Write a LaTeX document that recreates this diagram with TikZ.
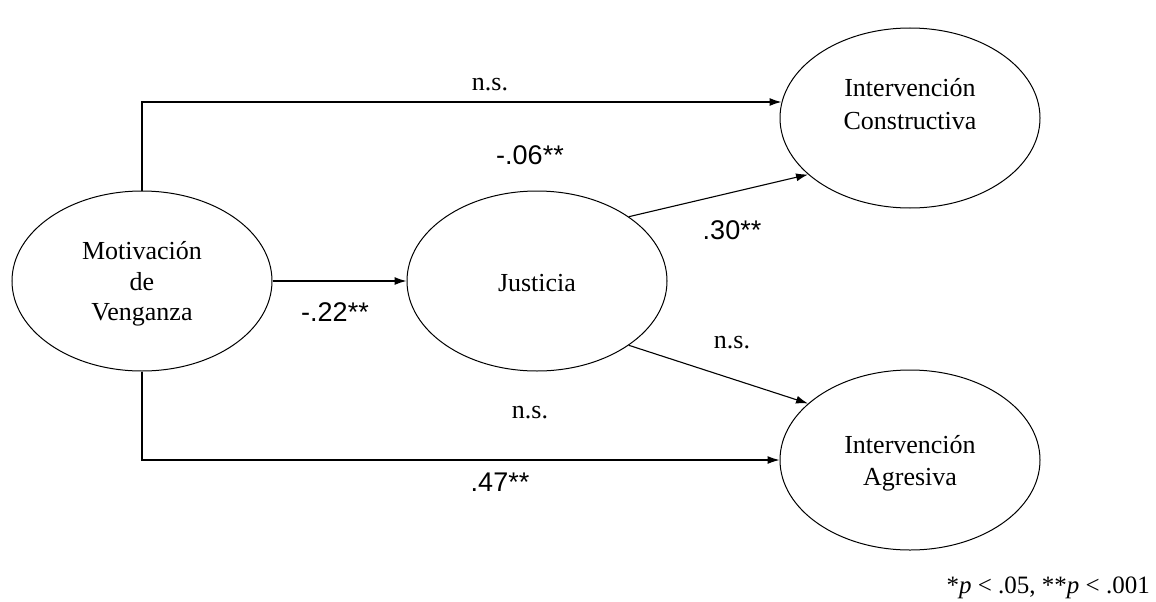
\documentclass[tikz,border=0pt]{standalone}
\usepackage{fontspec}
\setmainfont{Liberation Serif}
\newfontfamily\numfont{Liberation Sans}
\usetikzlibrary{arrows.meta,calc,shapes.geometric}
\tikzset{
  var/.style={draw, line width=1pt, ellipse, minimum width=260pt, minimum height=180pt, inner sep=0pt},
  txt/.style={align=center, font=\fontsize{26}{30.5}\selectfont, inner sep=0pt},
  conn/.style={line width=1.1pt, -{Latex[length=12pt,width=8pt]}},
  lbl/.style={font=\fontsize{26}{30}\selectfont, inner sep=0pt},
  coef/.style={font=\numfont\fontsize{27}{30}\selectfont, inner sep=0pt}
}
\begin{document}
\begin{tikzpicture}[x=1pt,y=-1pt]
\useasboundingbox (0,0) rectangle (1156,602);
\node[var] (mot) at (142,281) {};
\node[txt] (mott) at (142,284) {Motivación\\de\\Venganza};
\node[var] (jus) at (537,281) {};
\node[txt] (just) at (537,283) {Justicia};
\node[var] (con) at (910,118) {};
\node[txt, font=\fontsize{26}{33}\selectfont] (cont) at (910,104) {Intervención\\Constructiva};
\node[var] (agr) at (910,460) {};
\node[txt, font=\fontsize{26}{32}\selectfont] (agrt) at (910,463) {Intervención\\Agresiva};
\coordinate (conin) at ($(con.west)+(2,-16)$);
\draw[conn] (mot.north) |- (conin);
\draw[conn] (mot.south) |- (agr.west);
\draw[conn] (mot.east) -- (jus.west);
\draw[conn] (jus.35) -- (con.209);
\draw[conn] (jus.-35) -- (agr.151);
\node[lbl] (l1) at (490,85) {n.s.};
\node[coef] (l2) at (530,155) {-.06**};
\node[coef] (l3) at (732,230) {.30**};
\node[coef] (l4) at (335,312) {-.22**};
\node[lbl] (l5) at (732,343) {n.s.};
\node[lbl] (l6) at (530,413) {n.s.};
\node[coef] (l7) at (500,482) {.47**};
\node[lbl, anchor=east, font=\fontsize{25}{30}\selectfont] (fn) at (1150,588) {*\textit{p} < .05, **\textit{p} < .001};
\end{tikzpicture}
\end{document}
